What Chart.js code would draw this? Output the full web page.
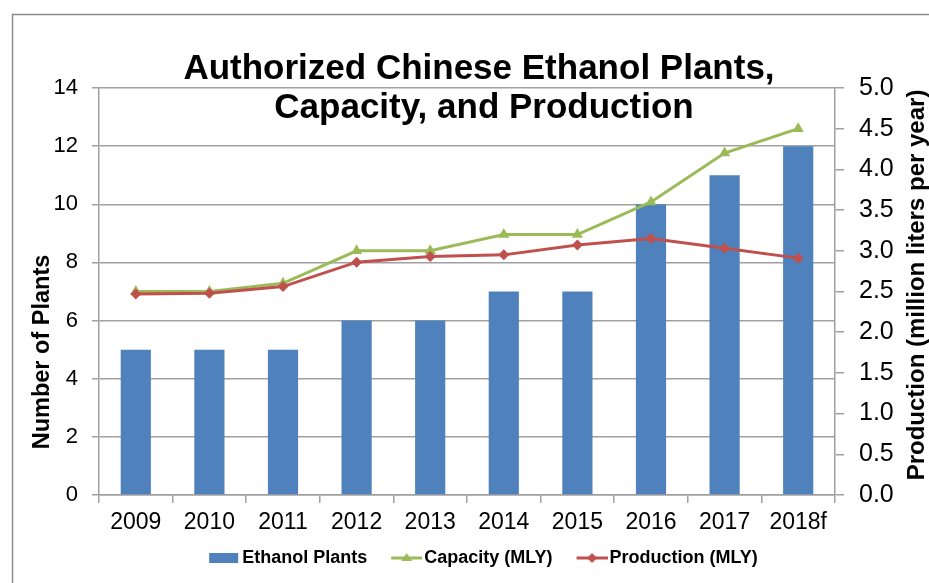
<!DOCTYPE html>
<html>
<head>
<meta charset="utf-8">
<script src="https://cdn.jsdelivr.net/npm/chart.js@4.4.1/dist/chart.umd.min.js"></script>
<style>
  html, body { margin: 0; padding: 0; background: #fff; }
  #wrap { width: 929px; height: 583px; position: relative; }
</style>
</head>
<body>
<div id="wrap"><canvas id="chart" width="929" height="583"></canvas></div>
<script>
const years = ['2009', '2010', '2011', '2012', '2013', '2014', '2015', '2016', '2017', '2018f'];
const plants = [5, 5, 5, 6, 6, 7, 7, 10, 11, 12];
const capacity = [2.5, 2.5, 2.6, 3.0, 3.0, 3.2, 3.2, 3.6, 4.2, 4.5];
const production = [2.47, 2.48, 2.56, 2.86, 2.93, 2.95, 3.07, 3.15, 3.03, 2.91];
const seriesNames = ['Ethanol Plants', 'Capacity (MLY)', 'Production (MLY)'];
const titleLines = ['Authorized Chinese Ethanol Plants,', 'Capacity, and Production'];
const leftTitle = 'Number of Plants';
const rightTitle = 'Production (million liters per year)';

const FONT = '"Liberation Sans", Arial, sans-serif';
const BLUE = '#4F81BD', GREEN = '#9BBB59', RED = '#C0504D', GRID = '#A0A0A0';

// legend symbols like Excel: the drawing sits in the right part of a wider canvas
// so it ends close to the label text
function legendIcon(kind, color) {
    const c = document.createElement('canvas');
    c.width = 46; c.height = 16;
    const g = c.getContext('2d');
    g.fillStyle = color; g.strokeStyle = color;
    if (kind === 'bar') {
        g.fillRect(15, 3, 29, 10);
        return c;
    }
    g.lineWidth = 3;
    g.beginPath(); g.moveTo(15, 8); g.lineTo(46, 8); g.stroke();
    g.beginPath();
    if (kind === 'triangle') {
        g.moveTo(30.5, 3); g.lineTo(36, 11); g.lineTo(25, 11);
    } else {
        g.moveTo(30.5, 3); g.lineTo(35.5, 8); g.lineTo(30.5, 13); g.lineTo(25.5, 8);
    }
    g.closePath(); g.fill();
    return c;
}
const icons = [legendIcon('bar', BLUE), legendIcon('triangle', GREEN), legendIcon('diamond', RED)];

const decorPlugin = {
    id: 'decor',
    beforeDraw(chart) {
        const ctx = chart.ctx;
        ctx.save();
        ctx.strokeStyle = '#8C8C8C';
        ctx.lineWidth = 1.5;
        ctx.strokeRect(12.5, 14.5, 1000, 1000);
        ctx.restore();
    },
    afterDraw(chart) {
        const ctx = chart.ctx;
        ctx.save();
        ctx.fillStyle = '#000';
        ctx.textAlign = 'center';
        ctx.textBaseline = 'middle';
        ctx.font = 'bold 35px ' + FONT;
        ctx.fillText(titleLines[0], 479, 69);
        ctx.fillText(titleLines[1], 484, 108);
        ctx.restore();

        // axis titles, both read bottom to top
        [[leftTitle, 43, 352, 23.5], [rightTitle, 917, 285, 24]].forEach(([txt, x, y, size]) => {
            ctx.save();
            ctx.fillStyle = '#000';
            ctx.textAlign = 'center';
            ctx.textBaseline = 'middle';
            ctx.font = 'bold ' + size + 'px ' + FONT;
            ctx.translate(x, y);
            ctx.rotate(-Math.PI / 2);
            ctx.fillText(txt, 0, 0);
            ctx.restore();
        });
    }
};

new Chart(document.getElementById('chart'), {
    type: 'bar',
    data: {
        labels: years,
        datasets: [
            {
                type: 'bar',
                label: seriesNames[0],
                data: plants,
                yAxisID: 'y',
                backgroundColor: BLUE,
                barPercentage: 0.41,
                categoryPercentage: 1,
                order: 3
            },
            {
                type: 'line',
                label: seriesNames[1],
                data: capacity,
                yAxisID: 'y1',
                borderColor: GREEN,
                backgroundColor: GREEN,
                borderWidth: 3,
                pointStyle: 'triangle',
                pointRadius: 6.5,
                pointBorderWidth: 0,
                tension: 0,
                order: 2
            },
            {
                type: 'line',
                label: seriesNames[2],
                data: production,
                yAxisID: 'y1',
                borderColor: RED,
                backgroundColor: RED,
                borderWidth: 3,
                pointStyle: 'rectRot',
                pointRadius: 5.5,
                pointBorderWidth: 0,
                tension: 0,
                order: 1
            }
        ]
    },
    options: {
        responsive: false,
        animation: false,
        // left padding only pushes the centred legend to the right; the axis width makes up for it
        layout: { padding: { top: 88, left: 30, right: 0, bottom: 6 } },
        plugins: {
            title: { display: false },
            tooltip: { enabled: false },
            legend: {
                position: 'bottom',
                labels: {
                    usePointStyle: true,
                    pointStyleWidth: 32,
                    padding: 16,
                    color: '#000',
                    font: { family: FONT, size: 18, weight: 'bold' },
                    generateLabels: chart => chart.data.datasets.map((ds, i) => ({
                        text: ds.label,
                        pointStyle: icons[i],
                        fillStyle: ds.backgroundColor,
                        strokeStyle: ds.backgroundColor,
                        lineWidth: 0,
                        hidden: false,
                        datasetIndex: i
                    }))
                }
            }
        },
        scales: {
            x: {
                offset: true,
                grid: { display: true, drawOnChartArea: false, offset: true, tickLength: 8, color: GRID, lineWidth: 1.5 },
                border: { color: GRID, width: 1.5 },
                ticks: { color: '#000', font: { family: FONT, size: 23 }, padding: 6, maxRotation: 0 },
                afterFit: s => { s.height = 583 - 6 - 495 - s.chart.legend.height; }
            },
            y: {
                position: 'left',
                min: 0, max: 14,
                grid: { color: GRID, lineWidth: 1.5, tickLength: 7 },
                border: { color: GRID, width: 1.5 },
                ticks: { stepSize: 2, color: '#000', font: { family: FONT, size: 22 }, padding: 14 },
                afterFit: s => { s.width = 99 - 30; }
            },
            y1: {
                position: 'right',
                min: 0, max: 5,
                grid: { drawOnChartArea: false, color: GRID, lineWidth: 1.5, tickLength: 9 },
                border: { color: GRID, width: 1.5 },
                ticks: { stepSize: 0.5, color: '#000', font: { family: FONT, size: 25 }, padding: 15,
                         callback: v => Number(v).toFixed(1) },
                afterFit: s => { s.width = 929 - 835; }
            }
        }
    },
    plugins: [decorPlugin]
});
</script>
</body>
</html>
